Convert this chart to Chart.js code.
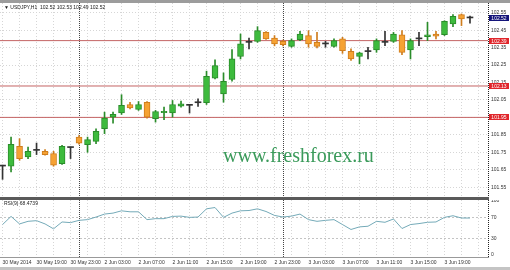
<!DOCTYPE html>
<html>
<head>
<meta charset="utf-8">
<script src="https://cdn.jsdelivr.net/npm/chart.js@4.4.1/dist/chart.umd.min.js"></script>
<style>
  html, body { margin: 0; padding: 0; background: #fff; }
  #wrap { position: relative; width: 510px; height: 270px; overflow: hidden; background: #fff;
          font-family: "Liberation Sans", Arial, sans-serif; }
  #topBar { position: absolute; left: 0; top: 0; width: 510px; height: 3px; background: #9c9c9c; }
  #mainBox { position: absolute; left: 0; top: 3px; width: 510px; height: 194px; }
  #sep { position: absolute; left: 0; top: 197px; width: 489px; height: 3px; background: #5a5a5a; }
  #rsiBox { position: absolute; left: 0; top: 200px; width: 510px; height: 67px; }
  #botBar { position: absolute; left: 0; top: 267px; width: 510px; height: 3px; background: #c4c4c4; }
  .caption { position: absolute; font-size: 5px; line-height: 6px; color: #1a1a1a; white-space: nowrap; }
  #watermark { position: absolute; left: 223px; top: 145px; font: 20px "Liberation Serif", "Times New Roman", serif;
               line-height: 20px; color: #3a9a5a; white-space: nowrap; }
</style>
</head>
<body>
<div id="wrap">
  <div id="topBar"></div>
  <div id="mainBox"><canvas id="mainChart" width="510" height="194"></canvas></div>
  <div id="sep"></div>
  <div id="rsiBox"><canvas id="rsiChart" width="510" height="67"></canvas></div>
  <div id="botBar"></div>
  <div class="caption" style="left:4px;top:4px;">&#9660; USDJPY,H1&nbsp; 102.52 102.53 102.49 102.52</div>
  <div class="caption" style="left:4px;top:200px;">RSI(9) 68.4739</div>
  <div id="watermark">www.freshforex.ru</div>
</div>
<script>
// USDJPY H1, 30 May 2014 15:00 .. 3 Jun 2014 22:00
const opens = [101.671, 101.670, 101.784, 101.723, 101.761, 101.756, 101.743, 101.685, 101.777, 101.837,
  101.794, 101.813, 101.885, 101.952, 101.975, 102.024, 101.996, 102.037, 101.943, 101.977,
  101.975, 102.015, 102.019, 102.034, 102.034, 102.175, 102.085, 102.167, 102.299, 102.380,
  102.386, 102.437, 102.405, 102.386, 102.357, 102.396, 102.419, 102.380, 102.371, 102.357,
  102.400, 102.329, 102.299, 102.327, 102.337, 102.380, 102.386, 102.423, 102.337, 102.400,
  102.413, 102.428, 102.424, 102.485, 102.539, 102.520];
const highs = [101.676, 101.837, 101.828, 101.780, 101.803, 101.765, 101.756, 101.790, 101.780, 101.846,
  101.837, 101.885, 101.980, 101.980, 102.080, 102.037, 102.041, 102.041, 101.990, 102.009,
  102.047, 102.043, 102.022, 102.057, 102.215, 102.280, 102.205, 102.339, 102.428, 102.405,
  102.470, 102.442, 102.419, 102.393, 102.400, 102.443, 102.447, 102.437, 102.386, 102.400,
  102.409, 102.343, 102.323, 102.352, 102.400, 102.443, 102.437, 102.447, 102.400, 102.437,
  102.495, 102.443, 102.504, 102.539, 102.543, 102.530];
const lows = [101.595, 101.637, 101.704, 101.714, 101.737, 101.733, 101.670, 101.681, 101.714, 101.797,
  101.750, 101.800, 101.857, 101.917, 101.967, 101.999, 101.990, 101.946, 101.923, 101.937,
  101.952, 102.009, 101.975, 102.013, 102.024, 102.171, 102.037, 102.157, 102.285, 102.343,
  102.380, 102.397, 102.360, 102.360, 102.352, 102.390, 102.352, 102.348, 102.352, 102.352,
  102.317, 102.276, 102.257, 102.285, 102.323, 102.361, 102.380, 102.310, 102.285, 102.361,
  102.390, 102.400, 102.419, 102.470, 102.476, 102.490];
const closes = [101.671, 101.796, 101.714, 101.756, 101.761, 101.737, 101.676, 101.784, 101.777, 101.803,
  101.823, 101.870, 101.946, 101.967, 102.019, 102.005, 102.024, 101.952, 101.984, 101.985,
  102.024, 102.028, 102.019, 102.034, 102.186, 102.247, 102.157, 102.285, 102.371, 102.380,
  102.447, 102.400, 102.371, 102.367, 102.390, 102.428, 102.371, 102.357, 102.371, 102.390,
  102.333, 102.285, 102.320, 102.327, 102.390, 102.380, 102.428, 102.323, 102.390, 102.400,
  102.423, 102.415, 102.500, 102.529, 102.515, 102.520];
const rsiValues = [56.4, 71.5, 57.6, 62.4, 63.6, 57.6, 48.5, 61.2, 60.0, 64.2,
  65.5, 70.3, 75.8, 77.6, 81.8, 80.0, 80.0, 65.5, 67.3, 67.3,
  71.5, 72.0, 69.7, 70.3, 85.5, 87.9, 69.7, 77.6, 81.8, 82.4,
  85.5, 80.6, 73.3, 70.3, 72.0, 75.8, 65.5, 62.4, 64.2, 65.5,
  56.4, 47.3, 52.1, 53.3, 62.4, 60.6, 66.7, 49.1, 56.4, 58.2,
  60.6, 61.2, 69.7, 72.7, 68.5, 68.47];
// one label every 4 bars, starting at bar 0
const timeLabels = ['30 May 2014', '30 May 19:00', '30 May 23:00', '2 Jun 03:00', '2 Jun 07:00', '2 Jun 11:00',
  '2 Jun 15:00', '2 Jun 19:00', '2 Jun 23:00', '3 Jun 03:00', '3 Jun 07:00', '3 Jun 11:00', '3 Jun 15:00', '3 Jun 19:00'];
const priceTicks = [101.55, 101.65, 101.75, 101.85, 101.95, 102.05, 102.15, 102.25, 102.35, 102.45, 102.55];
const rsiTicks = [0, 30, 70, 100];
const levels = [102.39, 102.13, 101.95];
const dayStarts = [9, 33];

const X_MIN = -0.3;
const X_MAX = 57.12;
const AXIS_W = 22;
const FONT = '"Liberation Sans", Arial, sans-serif';

const colors = {
  upFill: '#3dbb3d', upEdge: '#2a8c2a',
  downFill: '#f6a233', downEdge: '#cf7d1d',
  doji: '#333333',
  grid: '#d6d6d6',
  level: '#c46464',
  levelTag: '#e0262b',
  bidTag: '#14147a',
  rsi: '#74aab8'
};

Chart.defaults.font.family = FONT;
Chart.defaults.font.size = 5;
Chart.defaults.color = '#333';

const idx = closes.map((_, i) => i);
const isDoji = i => Math.abs(closes[i] - opens[i]) < 0.002;
const fillOf = i => isDoji(i) ? colors.doji : (closes[i] > opens[i] ? colors.upFill : colors.downFill);
const edgeOf = i => isDoji(i) ? colors.doji : (closes[i] > opens[i] ? colors.upEdge : colors.downEdge);

function fixWidth(scale) {
  scale.width = AXIS_W;
  scale.paddingTop = 0;
  scale.paddingBottom = 0;
}

function xScale(showLabels) {
  return {
    type: 'linear',
    min: X_MIN,
    max: X_MAX,
    offset: false,
    grid: { offset: false, color: colors.grid, drawTicks: false },
    border: { display: showLabels, color: '#999', dash: [1, 2] },
    ticks: {
      display: showLabels,
      stepSize: 2,
      includeBounds: false,
      autoSkip: false,
      maxRotation: 0,
      minRotation: 0,
      align: 'start',
      padding: 3,
      callback: v => (Math.abs(v % 4) < 1e-6 ? (timeLabels[Math.round(v / 4)] || '') : '')
    },
    afterFit: s => { s.height = showLabels ? 10 : 0; s.paddingLeft = 0; s.paddingRight = 0; }
  };
}

// dotted day separators and the dotted price axis line
const paneDecor = {
  id: 'paneDecor',
  beforeDatasetsDraw(chart) {
    const { ctx, chartArea, scales } = chart;
    ctx.save();
    ctx.strokeStyle = '#444';
    ctx.lineWidth = 1;
    ctx.setLineDash([1, 1]);
    dayStarts.forEach(i => {
      const x = Math.floor(scales.x.getPixelForValue(i)) + 0.5;
      ctx.beginPath();
      ctx.moveTo(x, chartArea.top);
      ctx.lineTo(x, chartArea.bottom);
      ctx.stroke();
    });
    const ax = Math.round(chartArea.right) + 0.5;
    ctx.strokeStyle = '#222';
    ctx.beginPath();
    ctx.moveTo(ax, chartArea.top);
    ctx.lineTo(ax, chartArea.bottom);
    ctx.stroke();
    ctx.restore();
  }
};

// coloured price boxes on the right axis
const priceTags = {
  id: 'priceTags',
  afterDraw(chart) {
    const { ctx, chartArea, scales: { y } } = chart;
    ctx.save();
    ctx.font = '5px ' + FONT;
    ctx.textAlign = 'center';
    ctx.textBaseline = 'middle';
    const tag = (value, bg) => {
      const py = Math.round(y.getPixelForValue(value));
      ctx.fillStyle = bg;
      ctx.fillRect(chartArea.right + 1, py - 3, 20, 6);
      ctx.fillStyle = '#fff';
      ctx.fillText(value.toFixed(2), chartArea.right + 11, py + 0.5);
    };
    levels.forEach(v => tag(v, colors.levelTag));
    tag(closes[closes.length - 1], colors.bidTag);
    ctx.restore();
  }
};

const levelSets = levels.map(v => ({
  type: 'line',
  data: [{ x: X_MIN, y: v }, { x: X_MAX, y: v }],
  borderColor: colors.level,
  borderWidth: 1,
  pointRadius: 0,
  order: 3
}));

new Chart(document.getElementById('mainChart'), {
  type: 'bar',
  data: {
    datasets: [
      {
        data: idx.map(i => ({ x: i, y: [opens[i], closes[i]] })),
        backgroundColor: idx.map(fillOf),
        borderColor: idx.map(edgeOf),
        borderWidth: idx.map(i => (isDoji(i) ? 0 : 1)),
        borderSkipped: false,
        barThickness: 6,
        minBarLength: 1,
        grouped: false,
        order: 1
      },
      {
        data: idx.map(i => ({ x: i, y: [lows[i], highs[i]] })),
        backgroundColor: idx.map(edgeOf),
        borderWidth: 0,
        barThickness: 1,
        grouped: false,
        order: 2
      },
      ...levelSets
    ]
  },
  options: {
    responsive: false,
    animation: false,
    layout: { padding: 0 },
    plugins: { legend: { display: false }, tooltip: { enabled: false } },
    scales: {
      x: xScale(false),
      y: {
        position: 'right',
        min: 101.4938,
        max: 102.6056,
        grid: { color: colors.grid, drawTicks: false },
        border: { display: false, dash: [1, 2] },
        ticks: { padding: 3, callback: v => Number(v).toFixed(2) },
        afterBuildTicks: s => { s.ticks = priceTicks.map(v => ({ value: v })); },
        afterFit: fixWidth
      }
    }
  },
  plugins: [paneDecor, priceTags]
});

new Chart(document.getElementById('rsiChart'), {
  type: 'line',
  data: {
    datasets: [{
      data: idx.map(i => ({ x: i, y: rsiValues[i] })),
      borderColor: colors.rsi,
      borderWidth: 1,
      pointRadius: 0,
      tension: 0
    }]
  },
  options: {
    responsive: false,
    animation: false,
    layout: { padding: 0 },
    plugins: { legend: { display: false }, tooltip: { enabled: false } },
    scales: {
      x: xScale(true),
      y: {
        position: 'right',
        min: -3.6,
        max: 101.82,
        grid: {
          drawTicks: false,
          color: c => (c.tick && (c.tick.value === 30 || c.tick.value === 70) ? '#c4c4c4' : 'rgba(0,0,0,0)')
        },
        border: { display: false, dash: [2, 2] },
        ticks: { padding: 3 },
        afterBuildTicks: s => { s.ticks = rsiTicks.map(v => ({ value: v })); },
        afterFit: fixWidth
      }
    }
  },
  plugins: [paneDecor]
});
</script>
</body>
</html>
